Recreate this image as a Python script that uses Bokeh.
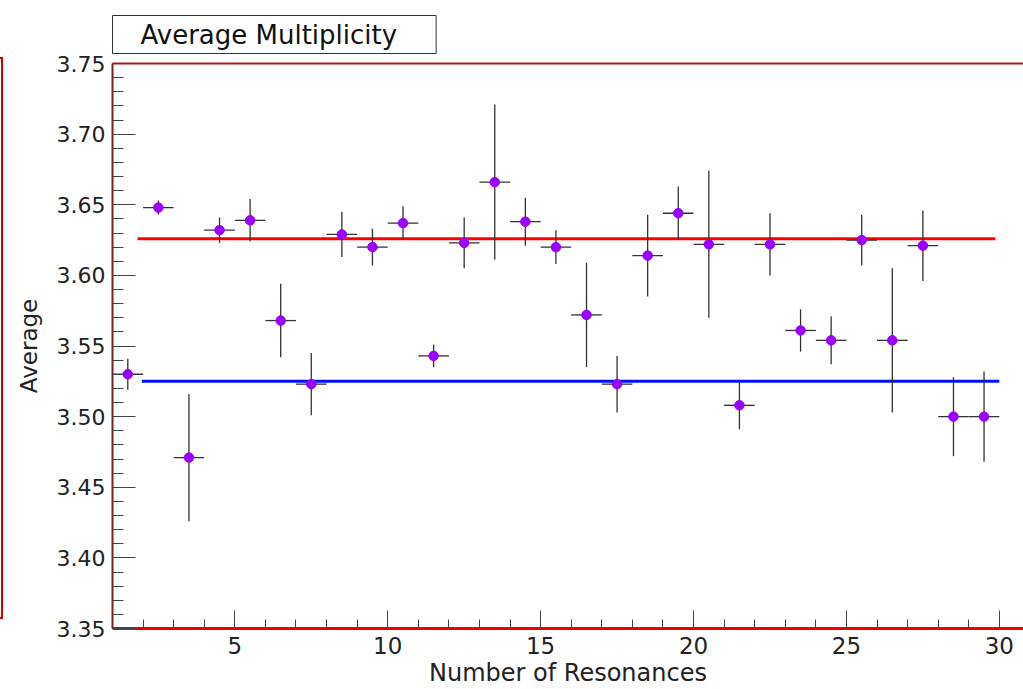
from bokeh.plotting import figure
from bokeh.models import Range1d, LinearAxis, FixedTicker, NumeralTickFormatter, Div, ColumnDataSource
from bokeh.layouts import row
from bokeh.embed import file_html
from bokeh.resources import INLINE

# ---------------- data ----------------
bin_low = [1, 2, 3, 4, 5, 6, 7, 8, 9, 10, 11, 12, 13, 14, 15,
           16, 17, 18, 19, 20, 21, 22, 23, 24, 25, 26, 27, 28, 29]
bin_width = 1.0
average = [3.530, 3.648, 3.471, 3.632, 3.639, 3.568, 3.523, 3.629, 3.620, 3.637,
           3.543, 3.623, 3.666, 3.638, 3.620, 3.572, 3.523, 3.614, 3.644, 3.622,
           3.508, 3.622, 3.561, 3.554, 3.625, 3.554, 3.621, 3.500, 3.500]
error = [0.011, 0.005, 0.045, 0.009, 0.015, 0.026, 0.022, 0.016, 0.013, 0.012,
         0.008, 0.018, 0.055, 0.017, 0.012, 0.037, 0.020, 0.029, 0.019, 0.052,
         0.017, 0.022, 0.015, 0.017, 0.018, 0.051, 0.025, 0.028, 0.032]

fit_red_value = 3.626
fit_red_span = [1.82, 29.87]
fit_blue_value = 3.525
fit_blue_span = [1.96, 30.0]

x_major = [5, 10, 15, 20, 25, 30]
x_minor = list(range(1, 31))
y_major = [3.35, 3.40, 3.45, 3.50, 3.55, 3.60, 3.65, 3.70, 3.75]
y_minor = [round(3.35 + 0.01 * i, 2) for i in range(41)]

title_text = "Average Multiplicity"
x_title = "Number of Resonances"
y_title = "Average"

# ---------------- derived ----------------
centers = [b + bin_width / 2 for b in bin_low]
src = ColumnDataSource(dict(
    x=centers,
    y=average,
    lo=[a - e for a, e in zip(average, error)],
    hi=[a + e for a, e in zip(average, error)],
    xl=[b for b in bin_low],
    xr=[b + bin_width for b in bin_low],
))

FONT = "DejaVu Sans"

p = figure(width=1017, height=689,
           x_range=Range1d(1, 30.79), y_range=Range1d(3.35, 3.75),
           output_backend="svg", toolbar_location=None,
           min_border_left=106, min_border_right=0,
           min_border_top=63, min_border_bottom=61,
           title=title_text, margin=0)

p.background_fill_color = "white"
p.border_fill_color = "white"
p.outline_line_color = None
p.xgrid.visible = False
p.ygrid.visible = False

# title box
p.title.text_font = FONT
p.title.text_font_size = "26px"
p.title.text_font_style = "normal"
p.title.text_color = "#111111"
p.title.align = "left"
p.title.standoff = 20
p.title.border_line_color = "#333333"
p.title.border_line_width = 1
p.title.background_fill_color = "white"
p.title.padding = (28, 39, 4, 4)

# x axis
xa = p.xaxis[0]
xa.ticker = FixedTicker(ticks=x_major, minor_ticks=x_minor)
xa.axis_line_color = "#ee0000"
xa.axis_line_width = 3
xa.major_tick_in = 18
xa.major_tick_out = 0
xa.minor_tick_in = 9
xa.minor_tick_out = 0
xa.major_tick_line_color = "#444444"
xa.minor_tick_line_color = "#444444"
xa.major_label_standoff = 8
xa.major_label_text_font = FONT
xa.major_label_text_font_size = "23px"
xa.major_label_text_color = "#222222"
xa.axis_label = x_title
xa.axis_label_standoff = 2
xa.axis_label_text_font = FONT
xa.axis_label_text_font_size = "24px"
xa.axis_label_text_font_style = "normal"
xa.axis_label_text_color = "#222222"

# y axis
ya = p.yaxis[0]
ya.ticker = FixedTicker(ticks=y_major, minor_ticks=y_minor)
ya.formatter = NumeralTickFormatter(format="0.00")
ya.axis_line_color = "#7a2020"
ya.axis_line_width = 2
ya.major_tick_in = 23
ya.major_tick_out = 0
ya.minor_tick_in = 11
ya.minor_tick_out = 0
ya.major_tick_line_color = "#444444"
ya.minor_tick_line_color = "#444444"
ya.major_label_standoff = 7
ya.major_label_text_font = FONT
ya.major_label_text_font_size = "22px"
ya.major_label_text_color = "#222222"
ya.axis_label = y_title
ya.axis_label_standoff = 12
ya.axis_label_text_font = FONT
ya.axis_label_text_font_size = "23px"
ya.axis_label_text_font_style = "normal"
ya.axis_label_text_color = "#222222"

# top frame line
top = LinearAxis(ticker=FixedTicker(ticks=[]), axis_line_color="#b01818", axis_line_width=2,
                 major_tick_line_color=None, minor_tick_line_color=None)
p.add_layout(top, "above")

# fit lines
p.line(fit_red_span, [fit_red_value] * 2, line_color="#ff0000", line_width=3)
p.line(fit_blue_span, [fit_blue_value] * 2, line_color="#0010ff", line_width=3)

# error bars
p.segment(x0="x", y0="lo", x1="x", y1="hi", source=src, line_color="#333333", line_width=1.3)
p.segment(x0="xl", y0="y", x1="xr", y1="y", source=src, line_color="#333333", line_width=1.3)

# markers
p.scatter(x="x", y="y", source=src, size=9.5, fill_color="#9900ff", line_color="#9900ff")

left_frame = Div(text='<div style="margin-top:57px;width:3px;height:562px;'
                      'border-top:2px solid #cc0000;border-right:2px solid #cc0000;'
                      'border-bottom:2px solid #cc0000;"></div>',
                 width=6, height=689, margin=0)

layout = row(left_frame, p, spacing=0)

open("out.html", "w").write(file_html(layout, INLINE))
